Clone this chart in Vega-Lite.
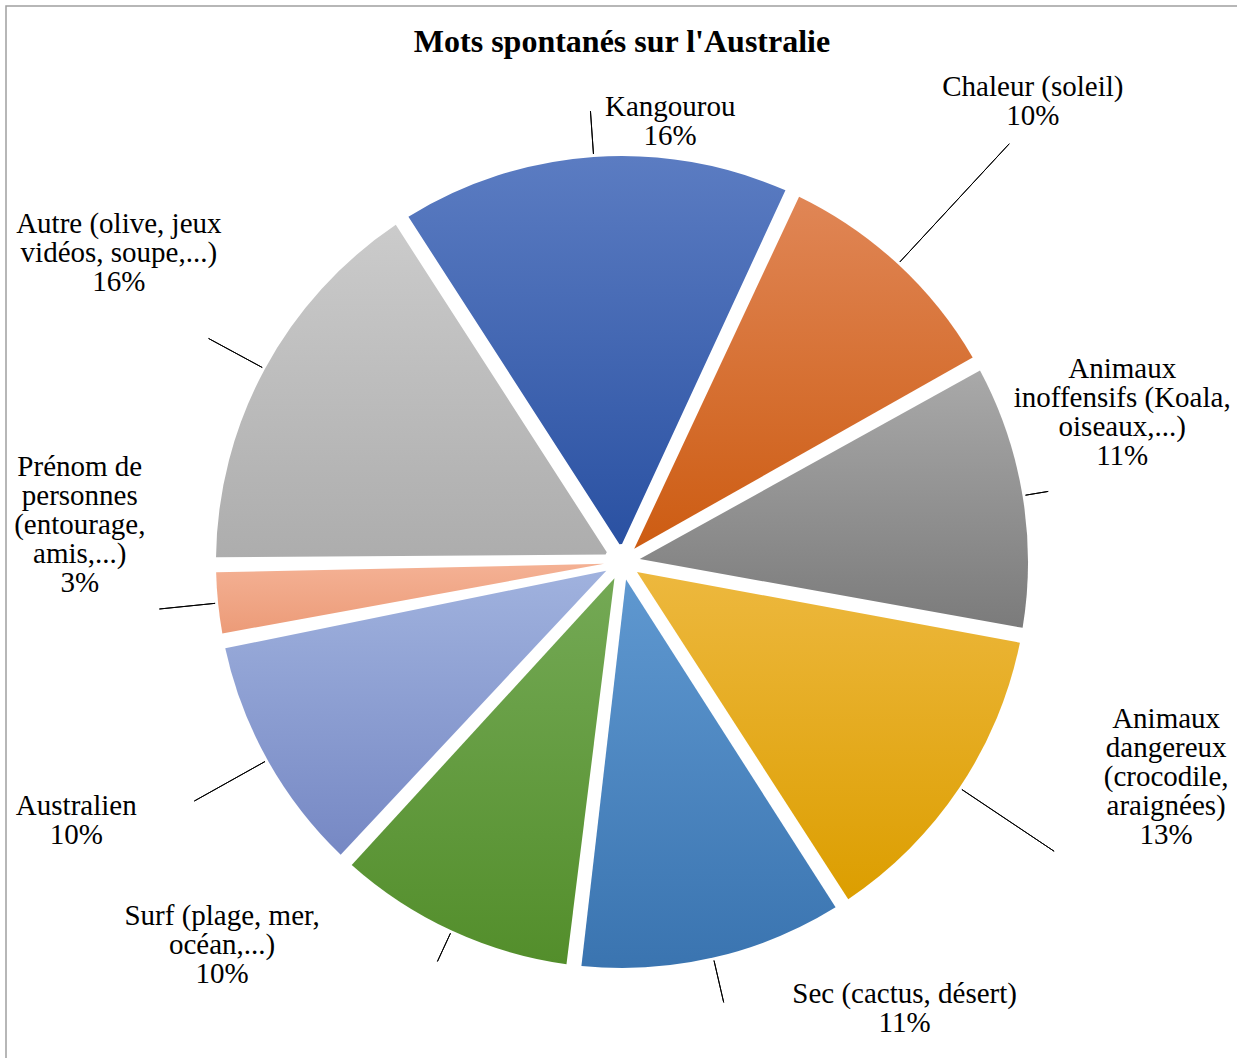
{
  "$schema": "https://vega.github.io/schema/vega-lite/v6.json",
  "autosize": "none",
  "width": 1232,
  "height": 1112,
  "padding": {"left": 6, "top": 6, "right": -1, "bottom": -60},
  "background": "white",
  "view": {"stroke": "#a0a0a0", "strokeWidth": 1.5, "fill": "white"},
  "config": {"view": {"stroke": "#a0a0a0", "strokeWidth": 1.5}},
  "title": {
    "text": "Mots spontanés sur l'Australie",
    "font": "Liberation Serif",
    "fontSize": 32,
    "fontWeight": "bold",
    "color": "black",
    "anchor": "middle",
    "offset": 0,
    "dy": 53
  },
  "data": {
    "values": [
      {"i": 1, "cat": "Kangourou", "pct": 16, "label": "Kangourou\n16%"},
      {"i": 2, "cat": "Chaleur (soleil)", "pct": 10, "label": "Chaleur (soleil)\n10%"},
      {"i": 3, "cat": "Animaux inoffensifs (Koala, oiseaux,...)", "pct": 11, "label": "Animaux\ninoffensifs (Koala,\noiseaux,...)\n11%"},
      {"i": 4, "cat": "Animaux dangereux (crocodile, araignées)", "pct": 13, "label": "Animaux\ndangereux\n(crocodile,\naraignées)\n13%"},
      {"i": 5, "cat": "Sec (cactus, désert)", "pct": 11, "label": "Sec (cactus, désert)\n11%"},
      {"i": 6, "cat": "Surf (plage, mer, océan,...)", "pct": 10, "label": "Surf (plage, mer,\nocéan,...)\n10%"},
      {"i": 7, "cat": "Australien", "pct": 10, "label": "Australien\n10%"},
      {"i": 8, "cat": "Prénom de personnes (entourage, amis,...)", "pct": 3, "label": "Prénom de\npersonnes\n(entourage,\namis,...)\n3%"},
      {"i": 9, "cat": "Autre (olive, jeux vidéos, soupe,...)", "pct": 16, "label": "Autre (olive, jeux\nvidéos, soupe,...)\n16%"}
    ]
  },
  "encoding": {
    "theta": {"field": "pct", "type": "quantitative", "stack": true, "scale": {"range": [-0.5725, 5.7107]}},
    "order": {"field": "i", "type": "quantitative"},
    "detail": {"field": "cat", "type": "nominal"}
  },
  "layer": [
    {
      "mark": {"type": "arc", "radius": 406, "radius2": 18, "padAngle": 0.037, "strokeWidth": 0, "clip": true,
        "fill": {"gradient": "linear", "x1": 0, "y1": 0, "x2": 0, "y2": 1, "stops": [{"offset": 0, "color": "#5b7cc2"}, {"offset": 1, "color": "#2a51a2"}]}},
      "encoding": {"fillOpacity": {"condition": {"test": "datum.i == 1", "value": 1}, "value": 0}}
    },
    {
      "mark": {"type": "arc", "radius": 406, "radius2": 18, "padAngle": 0.037, "strokeWidth": 0, "clip": true,
        "fill": {"gradient": "linear", "x1": 0, "y1": 0, "x2": 0, "y2": 1, "stops": [{"offset": 0, "color": "#e08656"}, {"offset": 1, "color": "#cd5c12"}]}},
      "encoding": {"fillOpacity": {"condition": {"test": "datum.i == 2", "value": 1}, "value": 0}}
    },
    {
      "mark": {"type": "arc", "radius": 406, "radius2": 18, "padAngle": 0.037, "strokeWidth": 0, "clip": true,
        "fill": {"gradient": "linear", "x1": 0, "y1": 0, "x2": 0, "y2": 1, "stops": [{"offset": 0, "color": "#a9a9a9"}, {"offset": 1, "color": "#7b7b7b"}]}},
      "encoding": {"fillOpacity": {"condition": {"test": "datum.i == 3", "value": 1}, "value": 0}}
    },
    {
      "mark": {"type": "arc", "radius": 406, "radius2": 18, "padAngle": 0.037, "strokeWidth": 0, "clip": true,
        "fill": {"gradient": "linear", "x1": 0, "y1": 0, "x2": 0, "y2": 1, "stops": [{"offset": 0, "color": "#edb83e"}, {"offset": 1, "color": "#dc9e00"}]}},
      "encoding": {"fillOpacity": {"condition": {"test": "datum.i == 4", "value": 1}, "value": 0}}
    },
    {
      "mark": {"type": "arc", "radius": 406, "radius2": 18, "padAngle": 0.037, "strokeWidth": 0, "clip": true,
        "fill": {"gradient": "linear", "x1": 0, "y1": 0, "x2": 0, "y2": 1, "stops": [{"offset": 0, "color": "#5f98d0"}, {"offset": 1, "color": "#3a74b0"}]}},
      "encoding": {"fillOpacity": {"condition": {"test": "datum.i == 5", "value": 1}, "value": 0}}
    },
    {
      "mark": {"type": "arc", "radius": 406, "radius2": 18, "padAngle": 0.037, "strokeWidth": 0, "clip": true,
        "fill": {"gradient": "linear", "x1": 0, "y1": 0, "x2": 0, "y2": 1, "stops": [{"offset": 0, "color": "#74a955"}, {"offset": 1, "color": "#538e2b"}]}},
      "encoding": {"fillOpacity": {"condition": {"test": "datum.i == 6", "value": 1}, "value": 0}}
    },
    {
      "mark": {"type": "arc", "radius": 406, "radius2": 18, "padAngle": 0.037, "strokeWidth": 0, "clip": true,
        "fill": {"gradient": "linear", "x1": 0, "y1": 0, "x2": 0, "y2": 1, "stops": [{"offset": 0, "color": "#a0b2de"}, {"offset": 1, "color": "#7688c4"}]}},
      "encoding": {"fillOpacity": {"condition": {"test": "datum.i == 7", "value": 1}, "value": 0}}
    },
    {
      "mark": {"type": "arc", "radius": 406, "radius2": 18, "padAngle": 0.037, "strokeWidth": 0, "clip": true,
        "fill": {"gradient": "linear", "x1": 0, "y1": 0, "x2": 0, "y2": 1, "stops": [{"offset": 0, "color": "#f4b194"}, {"offset": 1, "color": "#ec9b78"}]}},
      "encoding": {"fillOpacity": {"condition": {"test": "datum.i == 8", "value": 1}, "value": 0}}
    },
    {
      "mark": {"type": "arc", "radius": 406, "radius2": 18, "padAngle": 0.037, "strokeWidth": 0, "clip": true,
        "fill": {"gradient": "linear", "x1": 0, "y1": 0, "x2": 0, "y2": 1, "stops": [{"offset": 0, "color": "#cbcbcb"}, {"offset": 1, "color": "#adadad"}]}},
      "encoding": {"fillOpacity": {"condition": {"test": "datum.i == 9", "value": 1}, "value": 0}}
    },
    {
      "mark": {"type": "arc", "radius": 452, "radius2": 409, "padAngle": 3, "filled": false, "stroke": "black", "strokeWidth": 1, "clip": true},
      "encoding": {"strokeOpacity": {"condition": {"test": "datum.i == 1 || datum.i == 5", "value": 1}, "value": 0}}
    },
    {
      "mark": {"type": "arc", "radius": 570, "radius2": 409, "padAngle": 3, "filled": false, "stroke": "black", "strokeWidth": 1, "clip": true},
      "encoding": {"strokeOpacity": {"condition": {"test": "datum.i == 2", "value": 1}, "value": 0}}
    },
    {
      "mark": {"type": "arc", "radius": 432, "radius2": 409, "padAngle": 3, "filled": false, "stroke": "black", "strokeWidth": 1, "clip": true},
      "encoding": {"strokeOpacity": {"condition": {"test": "datum.i == 3", "value": 1}, "value": 0}}
    },
    {
      "mark": {"type": "arc", "radius": 520, "radius2": 409, "padAngle": 3, "filled": false, "stroke": "black", "strokeWidth": 1, "clip": true},
      "encoding": {"strokeOpacity": {"condition": {"test": "datum.i == 4", "value": 1}, "value": 0}}
    },
    {
      "mark": {"type": "arc", "radius": 440, "radius2": 409, "padAngle": 3, "filled": false, "stroke": "black", "strokeWidth": 1, "clip": true},
      "encoding": {"strokeOpacity": {"condition": {"test": "datum.i == 6", "value": 1}, "value": 0}}
    },
    {
      "mark": {"type": "arc", "radius": 490, "radius2": 409, "padAngle": 3, "filled": false, "stroke": "black", "strokeWidth": 1, "clip": true},
      "encoding": {"strokeOpacity": {"condition": {"test": "datum.i == 7", "value": 1}, "value": 0}}
    },
    {
      "mark": {"type": "arc", "radius": 465, "radius2": 409, "padAngle": 3, "filled": false, "stroke": "black", "strokeWidth": 1, "clip": true},
      "encoding": {"strokeOpacity": {"condition": {"test": "datum.i == 8", "value": 1}, "value": 0}}
    },
    {
      "mark": {"type": "arc", "radius": 470, "radius2": 409, "padAngle": 3, "filled": false, "stroke": "black", "strokeWidth": 1, "clip": true},
      "encoding": {"strokeOpacity": {"condition": {"test": "datum.i == 9", "value": 1}, "value": 0}}
    },
    {
      "mark": {"type": "text", "radius": 456, "dx": 80, "clip": true, "font": "Liberation Serif", "fontSize": 29, "lineHeight": 29, "lineBreak": "\n", "align": "center", "baseline": "middle", "color": "black"},
      "encoding": {"text": {"condition": {"test": "datum.i == 1", "field": "label", "type": "nominal"}, "value": ""}}
    },
    {
      "mark": {"type": "text", "radius": 640, "dx": -24, "dy": -5, "clip": true, "font": "Liberation Serif", "fontSize": 29, "lineHeight": 29, "lineBreak": "\n", "align": "center", "baseline": "middle", "color": "black"},
      "encoding": {"text": {"condition": {"test": "datum.i == 2", "field": "label", "type": "nominal"}, "value": ""}}
    },
    {
      "mark": {"type": "text", "radius": 507, "dy": -110, "clip": true, "font": "Liberation Serif", "fontSize": 29, "lineHeight": 29, "lineBreak": "\n", "align": "center", "baseline": "middle", "color": "black"},
      "encoding": {"text": {"condition": {"test": "datum.i == 3", "field": "label", "type": "nominal"}, "value": ""}}
    },
    {
      "mark": {"type": "text", "radius": 650, "dx": 4, "dy": -205, "clip": true, "font": "Liberation Serif", "fontSize": 29, "lineHeight": 29, "lineBreak": "\n", "align": "center", "baseline": "middle", "color": "black"},
      "encoding": {"text": {"condition": {"test": "datum.i == 4", "field": "label", "type": "nominal"}, "value": ""}}
    },
    {
      "mark": {"type": "text", "radius": 456, "dx": 180, "dy": -12, "clip": true, "font": "Liberation Serif", "fontSize": 29, "lineHeight": 29, "lineBreak": "\n", "align": "center", "baseline": "middle", "color": "black"},
      "encoding": {"text": {"condition": {"test": "datum.i == 5", "field": "label", "type": "nominal"}, "value": ""}}
    },
    {
      "mark": {"type": "text", "radius": 560, "dx": -165, "dy": -154, "clip": true, "font": "Liberation Serif", "fontSize": 29, "lineHeight": 29, "lineBreak": "\n", "align": "center", "baseline": "middle", "color": "black"},
      "encoding": {"text": {"condition": {"test": "datum.i == 6", "field": "label", "type": "nominal"}, "value": ""}}
    },
    {
      "mark": {"type": "text", "radius": 600, "dx": -22, "dy": -49, "clip": true, "font": "Liberation Serif", "fontSize": 29, "lineHeight": 29, "lineBreak": "\n", "align": "center", "baseline": "middle", "color": "black"},
      "encoding": {"text": {"condition": {"test": "datum.i == 7", "field": "label", "type": "nominal"}, "value": ""}}
    },
    {
      "mark": {"type": "text", "radius": 545, "dy": -150, "clip": true, "font": "Liberation Serif", "fontSize": 29, "lineHeight": 29, "lineBreak": "\n", "align": "center", "baseline": "middle", "color": "black"},
      "encoding": {"text": {"condition": {"test": "datum.i == 8", "field": "label", "type": "nominal"}, "value": ""}}
    },
    {
      "mark": {"type": "text", "radius": 572, "dy": -66, "clip": true, "font": "Liberation Serif", "fontSize": 29, "lineHeight": 29, "lineBreak": "\n", "align": "center", "baseline": "middle", "color": "black"},
      "encoding": {"text": {"condition": {"test": "datum.i == 9", "field": "label", "type": "nominal"}, "value": ""}}
    }
  ]
}
